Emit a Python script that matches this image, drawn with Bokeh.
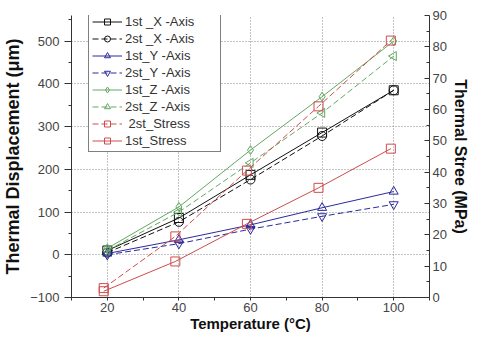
import math
from bokeh.plotting import figure
from bokeh.models import Range1d, LinearAxis, FixedTicker, Legend, LegendItem
from bokeh.embed import file_html
from bokeh.resources import INLINE

# ---- data ----
temperature = [20, 40, 60, 80, 100]
stress_temperature = [19, 39, 59, 79, 99.2]
x_1st = [10, 86, 187, 286, 385]
x_2nd = [5, 77, 176, 278, 385]
y_1st = [3, 35, 70, 110, 148]
y_2nd = [0, 26, 60, 90, 118]
z_1st = [15, 112, 245, 370, 500]
z_2nd = [10, 100, 215, 332, 465]
stress_2nd = [3, 19.5, 40.5, 61, 82]
stress_1st = [2, 11.5, 23.5, 35, 47.5]

x_ticks = [20, 40, 60, 80, 100]
x_minor = [10, 30, 50, 70, 90, 110]
left_ticks = [-100, 0, 100, 200, 300, 400, 500]
left_minor = [-50, 50, 150, 250, 350, 450, 550]
right_ticks = [0, 10, 20, 30, 40, 50, 60, 70, 80, 90]
right_minor = [5, 15, 25, 35, 45, 55, 65, 75, 85]

labels = ["1st _X -Axis", "2st _X -Axis", "1st_Y -Axis", "2st_Y -Axis",
          "1st_Z -Axis", "2st_Z -Axis", " 2st_Stress", "1st_Stress"]

BLACK = "#111111"
BLUE = "#2a2a9e"
GREEN = "#62a862"
RED = "#d04c4c"
FONT = "Liberation Sans"

p = figure(width=471, height=334, output_backend="svg", toolbar_location=None,
           x_range=Range1d(10, 110), y_range=Range1d(-100, 560),
           min_border_left=70, min_border_right=37, min_border_top=15, min_border_bottom=37,
           y_axis_location=None, x_axis_location=None)
p.outline_line_color = None
p.background_fill_color = "white"
p.extra_y_ranges = {"stress": Range1d(0, 90)}

# axes
xaxis = LinearAxis(ticker=FixedTicker(ticks=x_ticks, minor_ticks=x_minor),
                   axis_label="Temperature (°C)")
yaxis = LinearAxis(ticker=FixedTicker(ticks=left_ticks, minor_ticks=left_minor),
                   axis_label="Thermal Displacement (μm)")
raxis = LinearAxis(y_range_name="stress",
                   ticker=FixedTicker(ticks=right_ticks, minor_ticks=right_minor),
                   axis_label="Thermal Stree (MPa)")
for ax in (xaxis, yaxis, raxis):
    ax.axis_line_color = "#333333"
    ax.major_tick_line_color = "#333333"
    ax.minor_tick_line_color = "#333333"
    ax.major_label_text_font = FONT
    ax.major_label_text_font_size = "13px"
    ax.major_label_text_color = "#444444"
    ax.axis_label_text_font = FONT
    ax.axis_label_text_font_style = "bold"
    ax.axis_label_text_color = "#111111"
xaxis.major_tick_out = 3
xaxis.major_tick_in = 0
xaxis.minor_tick_out = 3
xaxis.minor_tick_in = 0
xaxis.major_label_standoff = 2
xaxis.axis_label_standoff = 0
xaxis.axis_label_text_font_size = "15px"
yaxis.major_tick_out = 7
yaxis.major_tick_in = 0
yaxis.minor_tick_out = 3
yaxis.minor_tick_in = 0
yaxis.major_label_standoff = 5
yaxis.axis_label_standoff = 4
yaxis.axis_label_text_font_size = "18px"
raxis.major_tick_out = 0
raxis.major_tick_in = 5
raxis.minor_tick_out = 0
raxis.minor_tick_in = 3
raxis.major_label_standoff = 3
raxis.axis_label_standoff = 2
raxis.axis_label_text_font_size = "16px"
p.add_layout(xaxis, "below")
p.add_layout(yaxis, "left")
p.add_layout(raxis, "right")

# grids
p.xgrid.ticker = FixedTicker(ticks=x_ticks)
p.ygrid.ticker = FixedTicker(ticks=left_ticks)
for g in (p.xgrid, p.ygrid):
    g.grid_line_color = "#888888"
    g.grid_line_dash = "1 2"
    g.grid_line_width = 1

items = []

def series(xs, ys, color, marker, dash, label, angle=0.0, rng="default"):
    kw = {} if rng == "default" else {"y_range_name": rng}
    r1 = p.line(xs, ys, line_color=color, line_width=1, line_dash=dash, **kw)
    r2 = p.scatter(xs, ys, marker=marker, size=9, line_color=color, fill_color=None,
                   line_width=1, angle=angle, **kw)
    items.append(LegendItem(label=label, renderers=[r1, r2]))

series(temperature, x_1st, BLACK, "square", "solid", labels[0])
series(temperature, x_2nd, BLACK, "circle", "6 3", labels[1])
series(temperature, y_1st, BLUE, "triangle", "solid", labels[2])
series(temperature, y_2nd, BLUE, "inverted_triangle", "6 3", labels[3])
series(temperature, z_1st, GREEN, "diamond", "solid", labels[4])
series(temperature, z_2nd, GREEN, "triangle", "6 3", labels[5], angle=math.pi / 2)
series(stress_temperature, stress_2nd, RED, "square", "6 3", labels[6], rng="stress")
series(stress_temperature, stress_1st, RED, "square", "solid", labels[7], rng="stress")

legend = Legend(items=items, location=(17, 145))
legend.border_line_color = "black"
legend.border_line_width = 1
legend.background_fill_color = "white"
legend.background_fill_alpha = 1
legend.label_text_font = FONT
legend.label_text_font_size = "13px"
legend.label_text_color = "#333333"
legend.glyph_width = 30
legend.glyph_height = 15
legend.label_height = 15
legend.label_width = 92
legend.label_standoff = 3
legend.spacing = 2
legend.padding = 3
legend.margin = 0
p.add_layout(legend, "center")

open("out.html", "w").write(file_html(p, INLINE))
